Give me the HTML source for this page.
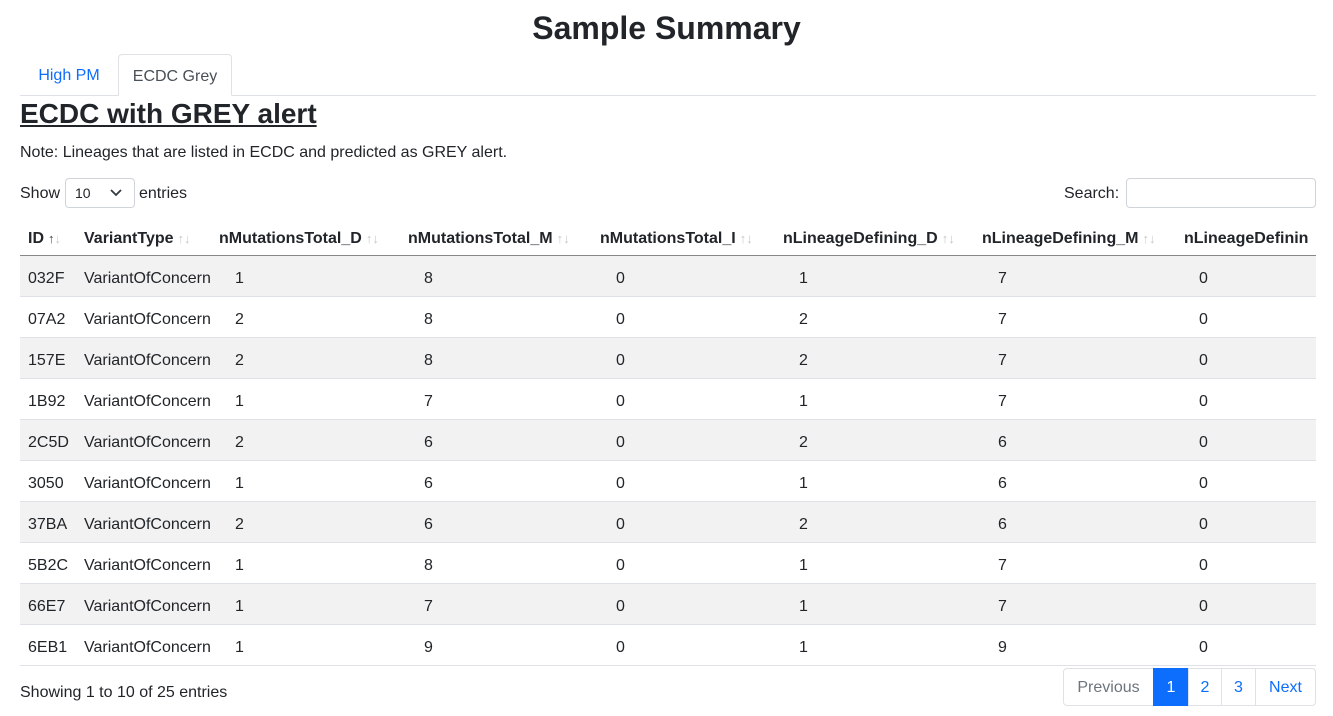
<!DOCTYPE html>
<html><head><meta charset="utf-8">
<style>
*{box-sizing:border-box;margin:0;padding:0}
body{width:1333px;height:716px;overflow:hidden;background:#fff;font-family:"Liberation Sans","DejaVu Sans",sans-serif;color:#212529;font-size:16px;position:relative}
.a{position:absolute;white-space:nowrap}
h1{position:absolute;left:0;width:1333px;top:8px;text-align:center;font-size:32px;font-weight:bold;line-height:40px}
.tab{position:absolute;top:54px;height:42px;line-height:44px;font-size:16px;text-align:center}
h2{position:absolute;left:20px;top:96px;font-size:28px;font-weight:bold;text-decoration:underline;line-height:36px}
.th{position:absolute;top:220px;height:38px;line-height:38px;font-weight:bold;font-size:16px;white-space:nowrap}
.arr{color:#c8c8c8;font-weight:normal;font-size:13px;margin-left:4px}
.row{position:absolute;left:20px;width:1296px;height:41px;border-bottom:1px solid #dee2e6}
.cell{position:absolute;line-height:41px;font-size:16px;white-space:nowrap}
.pg{position:absolute;top:668px;height:38px;line-height:37px;border:1px solid #dee2e6;color:#0d6efd;text-align:center;font-size:16px}
</style></head><body>
<h1>Sample Summary</h1>
<div class="tab" style="left:20px;width:98px;color:#0d6efd">High PM</div>
<div class="tab" style="left:118px;width:114px;color:#495057;border:1px solid #dee2e6;border-bottom:1px solid #fff;border-radius:4px 4px 0 0;background:#fff;z-index:2">ECDC Grey</div>
<div class="a" style="left:20px;top:95px;width:1296px;height:1px;background:#dee2e6"></div>
<h2>ECDC with GREY alert</h2>
<div class="a" style="left:20px;top:142px;font-size:16px;line-height:22px">Note: Lineages that are listed in ECDC and predicted as GREY alert.</div>
<div class="a" style="left:20px;top:183px;line-height:22px">Show</div>
<div class="a" style="left:65px;top:178px;width:70px;height:30px;border:1px solid #ced4da;border-radius:4px;font-size:14px;line-height:28px;padding-left:9px">10<svg style="position:absolute;left:44px;top:10px" width="12" height="8" viewBox="0 0 12 8"><path d="M1 1l5 5 5-5" fill="none" stroke="#343a40" stroke-width="1.8"/></svg></div>
<div class="a" style="left:139px;top:183px;line-height:22px">entries</div>
<div class="a" style="left:1064px;top:183px;line-height:22px">Search:</div>
<div class="a" style="left:1126px;top:178px;width:190px;height:30px;border:1px solid #ced4da;border-radius:4px"></div>
<div id="tbl"></div>
<div class="a" style="left:20px;top:255px;width:1296px;height:1px;background:#888"></div>
<div class="a" style="left:20px;top:682px;line-height:22px">Showing 1 to 10 of 25 entries</div>
<div class="pg" style="left:1063px;width:91px;color:#6c757d;border-radius:4px 0 0 4px">Previous</div>
<div class="pg" style="left:1153px;width:36px;background:#0d6efd;border-color:#0d6efd;color:#fff">1</div>
<div class="pg" style="left:1188px;width:34px">2</div>
<div class="pg" style="left:1221px;width:35px">3</div>
<div class="pg" style="left:1255px;width:61px;border-radius:0 4px 4px 0">Next</div>
<script>
const headers=["ID","VariantType","nMutationsTotal_D","nMutationsTotal_M","nMutationsTotal_I","nLineageDefining_D","nLineageDefining_M","nLineageDefinin"];
const headerX=[28,84,219,408,600,783,982,1184];
const cellX=[28,84,235,424,616,799,998,1199];
const ids=["032F","07A2","157E","1B92","2C5D","3050","37BA","5B2C","66E7","6EB1"];
const totD=[1,2,2,1,2,1,2,1,1,1];
const totM=[8,8,8,7,6,6,6,8,7,9];
const totI=[0,0,0,0,0,0,0,0,0,0];
const linD=[1,2,2,1,2,1,2,1,1,1];
const linM=[7,7,7,7,6,6,6,7,7,9];
const linI=[0,0,0,0,0,0,0,0,0,0];
const body=document.body;
headers.forEach((h,i)=>{
  const d=document.createElement('div');
  d.className='th';
  d.style.left=headerX[i]+'px';
  if(i===7){d.style.width=(1316-headerX[i])+'px';d.style.overflow='hidden';}
  d.innerHTML=h+(i<7?'<span class="arr">'+(i===0?'<b style="color:#444">↑</b>↓':'↑↓')+'</span>':'');
  
  
  body.appendChild(d);
});
ids.forEach((id,r)=>{
  const row=document.createElement('div');
  row.className='row';
  row.style.top=(256+r*41)+'px';
  row.style.background=r%2===0?'#f2f2f2':'#fff';
  
  
  body.appendChild(row);
  const vals=[id,"VariantOfConcern",totD[r],totM[r],totI[r],linD[r],linM[r],linI[r]];
  vals.forEach((v,c)=>{
    const d=document.createElement('div');
    d.className='cell';
    d.style.left=cellX[c]+'px';
    d.style.top=(258+r*41)+'px';
    d.textContent=v;
    
    
    body.appendChild(d);
  });
});
</script>
</body></html>
